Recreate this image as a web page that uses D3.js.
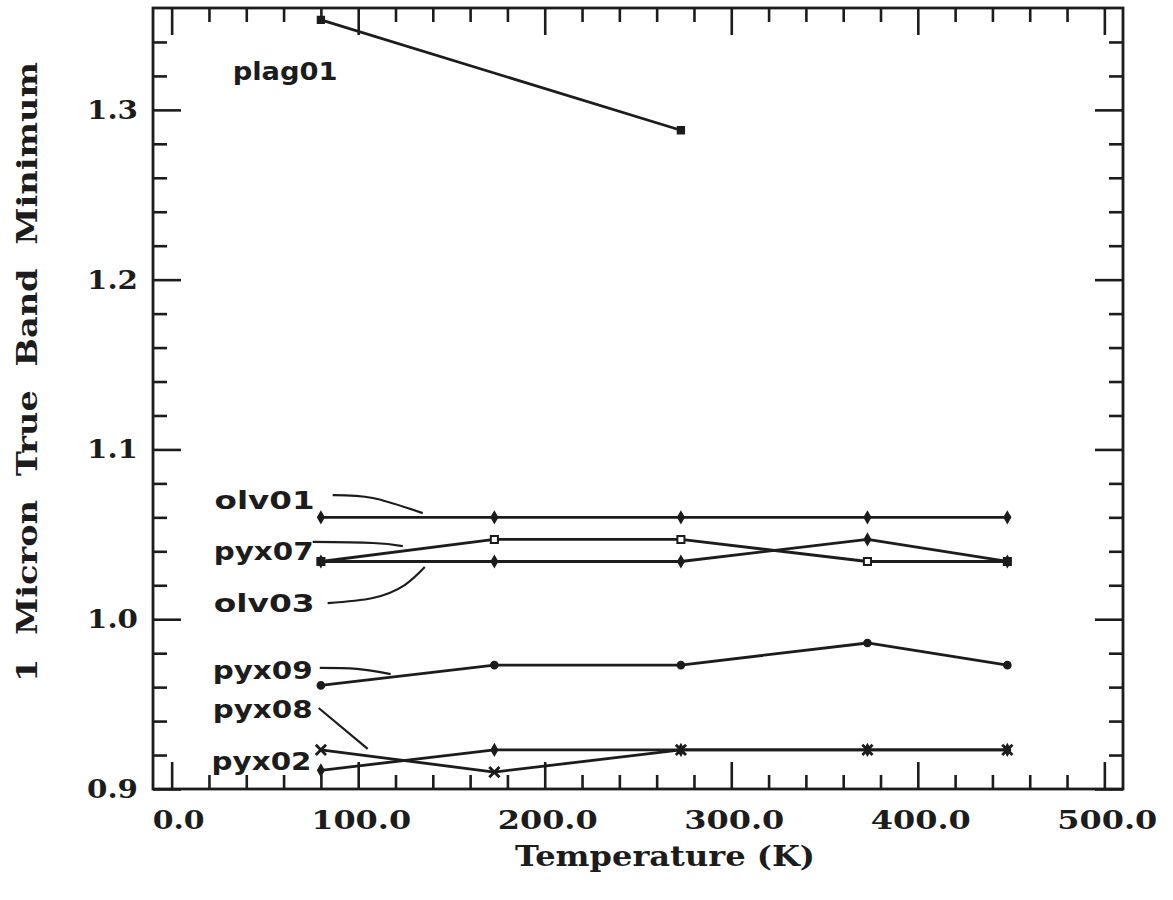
<!DOCTYPE html>
<html>
<head>
<meta charset="utf-8">
<script src="https://cdn.jsdelivr.net/npm/d3@7"></script>
<style>
  html, body { margin: 0; padding: 0; background: #ffffff; }
  svg { display: block; }
</style>
</head>
<body>
<svg id="chart" width="1173" height="900"></svg>
<script>
// ---------- data ----------
const temperatures = [80, 173, 273, 373, 448];
const plag01Temps = [80, 273];
const seriesNames = ["plag01", "olv01", "pyx07", "olv03", "pyx09", "pyx08", "pyx02"];
const plag01 = [1.353, 1.288];
const olv01 = [1.060, 1.060, 1.060, 1.060, 1.060];
const pyx07 = [1.034, 1.047, 1.047, 1.034, 1.034];
const olv03 = [1.034, 1.034, 1.034, 1.047, 1.034];
const pyx09 = [0.961, 0.973, 0.973, 0.986, 0.973];
const pyx08 = [0.923, 0.910, 0.923, 0.923, 0.923];
const pyx02 = [0.911, 0.923, 0.923, 0.923, 0.923];
const xTickValues = [0, 100, 200, 300, 400, 500];
const xTickLabels = ["0.0", "100.0", "200.0", "300.0", "400.0", "500.0"];
const yTickValues = [0.9, 1.0, 1.1, 1.2, 1.3];
const yTickLabels = ["0.9", "1.0", "1.1", "1.2", "1.3"];
const xTitle = "Temperature (K)";
const yTitle = "1 Micron True Band Minimum";
// series label anchors (data units) and leader lines (data units)
const labelTemps = [32.7, 23.0, 22.5, 22.5, 22.0, 22.0, 21.4];
const labelValues = [1.3175, 1.0649, 1.0349, 1.0042, 0.9648, 0.9418, 0.9112];
const leaderOlv01 = [[86.3, 1.0731], [107.8, 1.0714], [134.6, 1.0625]];
const leaderPyx07 = [[75.6, 1.0455], [107.8, 1.0449], [123.9, 1.0431]];
const leaderOlv03 = [[83.6, 1.0095], [107.8, 1.0125], [124.9, 1.0201], [135.7, 1.0307]];
const leaderPyx09 = [[79.4, 0.9713], [99.2, 0.9707], [117.4, 0.9677]];
const leaderPyx08 = [[78.8, 0.9477], [105.1, 0.9236]];

// ---------- layout ----------
const frame = { left: 153, right: 1123, top: 8, bottom: 789 };
const ink = "#1c1c1c";
const svg = d3.select("#chart");

const x = d3.scaleLinear().domain([-10, 510]).range([frame.left, frame.right]);
const y = d3.scaleLinear().domain([0.9, 1.36]).range([frame.bottom, frame.top]);

// frame
svg.append("rect")
  .attr("x", frame.left).attr("y", frame.top)
  .attr("width", frame.right - frame.left).attr("height", frame.bottom - frame.top)
  .attr("fill", "none").attr("stroke", ink).attr("stroke-width", 2.8);

// ticks
const xMinor = d3.range(0, 501, 20);
const yMinor = d3.range(0, 23).map(i => +(0.9 + i * 0.02).toFixed(2));
const isMajorX = v => v % 100 === 0;
const isMajorY = v => Math.abs(v * 10 - Math.round(v * 10)) < 1e-6;

function tickAxis(axisGen, transform, cls) {
  const g = svg.append("g").attr("class", cls).attr("transform", transform).call(axisGen);
  g.select(".domain").remove();
  g.selectAll("text").remove();
  g.selectAll("line").attr("stroke", ink).attr("stroke-width", 2.6);
  return g;
}
const bottomG = tickAxis(d3.axisTop(x).tickValues(xMinor).tickSizeOuter(0), `translate(0,${frame.bottom})`, "xb");
bottomG.selectAll(".tick line").attr("y2", d => isMajorX(d) ? -27 : -14);
const topG = tickAxis(d3.axisBottom(x).tickValues(xMinor).tickSizeOuter(0), `translate(0,${frame.top})`, "xt");
topG.selectAll(".tick line").attr("y2", d => isMajorX(d) ? 27 : 14);
const leftG = tickAxis(d3.axisRight(y).tickValues(yMinor).tickSizeOuter(0), `translate(${frame.left},0)`, "yl");
leftG.selectAll(".tick line").attr("x2", d => isMajorY(d) ? 28 : 14);
const rightG = tickAxis(d3.axisLeft(y).tickValues(yMinor).tickSizeOuter(0), `translate(${frame.right},0)`, "yr");
rightG.selectAll(".tick line").attr("x2", d => isMajorY(d) ? -28 : -14);

// tick labels
const serif = "'DejaVu Serif', 'Liberation Serif', serif";
svg.append("g").selectAll("text").data(xTickValues).join("text")
  .attr("x", (d, i) => x(d) + (xTickLabels[i].length === 3 ? 7 : 3)).attr("y", 829)
  .attr("text-anchor", "middle")
  .attr("font-family", serif).attr("font-weight", "bold").attr("font-size", 26)
  .attr("fill", ink)
  .attr("textLength", (d, i) => xTickLabels[i].length === 3 ? 52 : 100)
  .attr("lengthAdjust", "spacingAndGlyphs")
  .text((d, i) => xTickLabels[i]);

svg.append("g").selectAll("text").data(yTickValues).join("text")
  .attr("x", 138).attr("y", d => y(d) + 9)
  .attr("text-anchor", "end")
  .attr("font-family", serif).attr("font-weight", "bold").attr("font-size", 26)
  .attr("fill", ink)
  .attr("textLength", 51)
  .attr("lengthAdjust", "spacingAndGlyphs")
  .text((d, i) => yTickLabels[i]);

// axis titles
svg.append("text")
  .attr("x", 665).attr("y", 866)
  .attr("text-anchor", "middle")
  .attr("font-family", serif).attr("font-weight", "bold").attr("font-size", 28)
  .attr("fill", ink)
  .attr("textLength", 300).attr("lengthAdjust", "spacingAndGlyphs")
  .text(xTitle);

svg.append("text")
  .attr("transform", "translate(37,372) rotate(-90)")
  .attr("text-anchor", "middle")
  .attr("font-family", serif).attr("font-weight", "bold").attr("font-size", 28)
  .attr("fill", ink)
  .attr("textLength", 620).attr("lengthAdjust", "spacingAndGlyphs")
  .attr("word-spacing", 10)
  .text(yTitle);

// ---------- series ----------
const seriesValues = [plag01, olv01, pyx07, olv03, pyx09, pyx08, pyx02];
const seriesTemps = [plag01Temps, temperatures, temperatures, temperatures, temperatures, temperatures, temperatures];
const markerKinds = ["square", "diamond", "openSquare", "diamond", "circle", "times", "diamond"];
const line = d3.line().x(d => x(d[0])).y(d => y(d[1]));

const series = seriesNames.map((name, i) => ({
  name,
  marker: markerKinds[i],
  points: seriesValues[i].map((v, j) => [seriesTemps[i][j], v])
}));

const plot = svg.append("g");
plot.selectAll("path.series").data(series).join("path")
  .attr("class", "series")
  .attr("d", s => line(s.points))
  .attr("fill", "none").attr("stroke", ink).attr("stroke-width", 2.8)
  .attr("stroke-linejoin", "round");

const symbolFor = {
  square: d3.symbol().type(d3.symbolSquare).size(40),
  openSquare: d3.symbol().type(d3.symbolSquare).size(50),
  diamond: d3.symbol().type(d3.symbolDiamond).size(30),
  circle: d3.symbol().type(d3.symbolCircle).size(35),
  times: d3.symbol().type(d3.symbolTimes).size(70)
};

series.forEach(s => {
  plot.append("g").selectAll("path").data(s.points).join("path")
    .attr("transform", d => `translate(${x(d[0])},${y(d[1])})`)
    .attr("d", symbolFor[s.marker]())
    .attr("fill", s.marker === "openSquare" ? "#ffffff" : (s.marker === "times" ? "none" : ink))
    .attr("stroke", ink)
    .attr("stroke-width", s.marker === "times" ? 2.8 : 2);
});
// coincident end points of pyx07 / olv03 drawn filled
plot.append("g").selectAll("path").data([[temperatures[0], pyx07[0]], [temperatures[4], pyx07[4]]]).join("path")
  .attr("transform", d => `translate(${x(d[0])},${y(d[1])})`)
  .attr("d", symbolFor.square())
  .attr("fill", ink);

// ---------- labels ----------
const sans = "'DejaVu Sans', 'Liberation Sans', Arial, sans-serif";
const labelWidths = [105, 100, 100, 101, 100, 100, 100];
svg.append("g").selectAll("text").data(seriesNames).join("text")
  .attr("x", (d, i) => x(labelTemps[i]))
  .attr("y", (d, i) => y(labelValues[i]))
  .attr("font-family", sans).attr("font-weight", "bold").attr("font-size", 25)
  .attr("fill", ink)
  .attr("textLength", (d, i) => labelWidths[i])
  .attr("lengthAdjust", "spacingAndGlyphs")
  .text(d => d);

const leaderLine = d3.line().x(d => x(d[0])).y(d => y(d[1])).curve(d3.curveNatural);
svg.append("g").selectAll("path")
  .data([leaderOlv01, leaderPyx07, leaderOlv03, leaderPyx09, leaderPyx08]).join("path")
  .attr("d", leaderLine)
  .attr("fill", "none").attr("stroke", ink).attr("stroke-width", 2.2);
</script>
</body>
</html>
